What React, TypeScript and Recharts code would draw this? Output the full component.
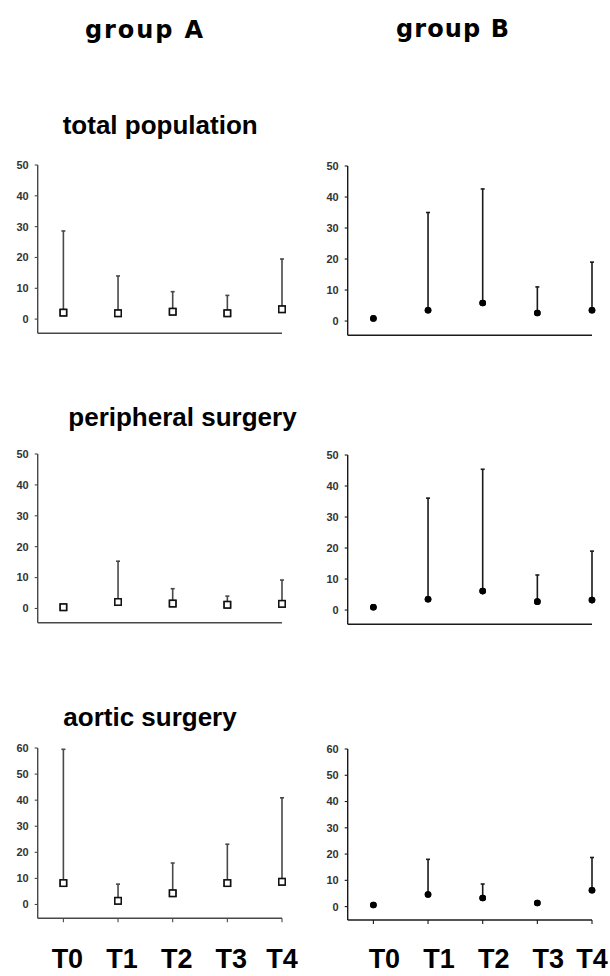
import React from 'react';
import { ScatterChart, Scatter, XAxis, YAxis, ErrorBar } from 'recharts';

const timepoints = ['T0', 'T1', 'T2', 'T3', 'T4'];
const xPositions = [0, 1, 2, 3, 4];
const ticks50 = [0, 10, 20, 30, 40, 50];
const ticks60 = [0, 10, 20, 30, 40, 50, 60];

const groupATotalMean = [2.1, 1.9, 2.4, 1.9, 3.2];
const groupATotalUpper = [28.6, 14, 8.9, 7.7, 19.5];
const groupBTotalMean = [0.8, 3.5, 5.8, 2.6, 3.5];
const groupBTotalUpper = [1.6, 35, 42.6, 11, 19];

const groupAPeriphMean = [0.4, 2.1, 1.6, 1.2, 1.5];
const groupAPeriphUpper = [0.4, 15.3, 6.4, 4.0, 9.2];
const groupBPeriphMean = [0.9, 3.5, 6.1, 2.7, 3.2];
const groupBPeriphUpper = [1.7, 36.1, 45.4, 11.3, 19];

const groupAAorticMean = [8.2, 1.4, 4.3, 8.2, 8.7];
const groupAAorticUpper = [59.5, 7.8, 15.9, 23.1, 40.9];
const groupBAorticMean = [0.6, 4.6, 3.3, 1.4, 6.2];
const groupBAorticUpper = [0.6, 18, 8.6, 1.4, 18.7];

function buildRows(mean: number[], upper: number[]) {
  return mean.map((m, i) => ({ x: xPositions[i], y: m, err: [0, Math.max(0, upper[i] - m)] }));
}

const COL_LEFT = [0, 310];
const AXIS_X = [37.7, 347.7];
const PLOT_RIGHT = [282, 592];
const FONT = '"Liberation Sans", Arial, sans-serif';

type PanelProps = {
  col: 0 | 1;
  plotTop: number;
  plotBottom: number;
  yMin: number;
  yMax: number;
  yTicks: number[];
  rows: { x: number; y: number; err: number[] }[];
  filled: boolean;
  labels?: boolean;
  stroke: string;
};

function Panel(p: PanelProps) {
  const left = COL_LEFT[p.col];
  const top = p.plotTop - 10;
  const yAxisWidth = AXIS_X[p.col] - left;
  const plotW = PLOT_RIGHT[p.col] - AXIS_X[p.col];
  const xAxisH = p.labels ? 976 - p.plotBottom : 10;
  const width = yAxisWidth + plotW + 18;
  const height = 10 + (p.plotBottom - p.plotTop) + xAxisH;
  const baseline = 968 - top;
  const shift = p.col === 0 ? 4 : 11;

  const renderLabel = (tp: any) => {
    const idx = xPositions.indexOf(tp.payload.value);
    const dx = idx < 4 ? shift : 0;
    return (
      <text
        x={tp.x + dx}
        y={baseline}
        textAnchor="middle"
        fontSize={27}
        fontWeight="bold"
        fontFamily={FONT}
        fill="#000"
      >
        {timepoints[idx]}
      </text>
    );
  };

  const shape = (sp: any) =>
    p.filled ? (
      <circle cx={sp.cx} cy={sp.cy} r={3.3} fill="#000" />
    ) : (
      <rect x={sp.cx - 3.2} y={sp.cy - 3.2} width={6.4} height={6.4} fill="#fff" stroke="#111" strokeWidth={1.5} />
    );

  return (
    <div style={{ position: 'absolute', left, top }}>
      <ScatterChart width={width} height={height} margin={{ top: 10, right: 18, left: 0, bottom: 0 }}>
        <XAxis
          type="number"
          dataKey="x"
          domain={[-0.47, 4]}
          ticks={xPositions}
          interval={0}
          height={xAxisH}
          tickSize={4}
          axisLine={{ stroke: p.stroke, strokeWidth: 1.4 }}
          tickLine={{ stroke: p.stroke, strokeWidth: 1.1 }}
          tick={p.labels ? renderLabel : false}
        />
        <YAxis
          type="number"
          dataKey="y"
          domain={[p.yMin, p.yMax]}
          ticks={p.yTicks}
          interval={0}
          width={yAxisWidth}
          tickSize={3}
          tickMargin={6}
          axisLine={{ stroke: p.stroke, strokeWidth: 1.4 }}
          tickLine={{ stroke: p.stroke, strokeWidth: 1.1 }}
          tick={{ fontSize: 11, fontWeight: 'bold', fill: '#333', fontFamily: FONT }}
        />
        <Scatter data={p.rows} shape={shape} isAnimationActive={false}>
          <ErrorBar dataKey="err" direction="y" width={2} stroke={p.stroke} strokeWidth={1.6} isAnimationActive={false} />
        </Scatter>
        <Scatter data={p.rows} shape={shape} isAnimationActive={false} />
      </ScatterChart>
    </div>
  );
}

export default function App() {
  const greyA = '#484848';
  const darkB = '#1a1a1a';
  return (
    <div style={{ position: 'absolute', left: 0, top: 0, width: 610, height: 976, background: '#fff' }}>
      <svg width={610} height={976} style={{ position: 'absolute', left: 0, top: 0 }}>
        <text x={85} y={37.7} fontSize={24} fontWeight="bold" fontFamily='"DejaVu Sans", sans-serif' textLength={118} lengthAdjust="spacing" fill="#000">
          group A
        </text>
        <text x={396} y={37.3} fontSize={24} fontWeight="bold" fontFamily='"DejaVu Sans", sans-serif' textLength={113} lengthAdjust="spacing" fill="#000">
          group B
        </text>
        <text x={62.7} y={134.3} fontSize={26} fontWeight="bold" fontFamily={FONT} fill="#000">
          total population
        </text>
        <text x={68.3} y={426} fontSize={26} fontWeight="bold" fontFamily={FONT} fill="#000">
          peripheral surgery
        </text>
        <text x={63.3} y={726} fontSize={26} fontWeight="bold" fontFamily={FONT} fill="#000">
          aortic surgery
        </text>
      </svg>
      <Panel col={0} plotTop={165} plotBottom={333.3} yMin={-4.6} yMax={50} yTicks={ticks50} rows={buildRows(groupATotalMean, groupATotalUpper)} filled={false} stroke={greyA} />
      <Panel col={1} plotTop={165.7} plotBottom={335} yMin={-4.6} yMax={50} yTicks={ticks50} rows={buildRows(groupBTotalMean, groupBTotalUpper)} filled stroke={darkB} />
      <Panel col={0} plotTop={454} plotBottom={622.7} yMin={-4.6} yMax={50} yTicks={ticks50} rows={buildRows(groupAPeriphMean, groupAPeriphUpper)} filled={false} stroke={greyA} />
      <Panel col={1} plotTop={455} plotBottom={624.3} yMin={-4.6} yMax={50} yTicks={ticks50} rows={buildRows(groupBPeriphMean, groupBPeriphUpper)} filled stroke={darkB} />
      <Panel col={0} plotTop={748} plotBottom={918.3} yMin={-5.3} yMax={60} yTicks={ticks60} rows={buildRows(groupAAorticMean, groupAAorticUpper)} filled={false} stroke={greyA} labels />
      <Panel col={1} plotTop={749} plotBottom={920} yMin={-5.1} yMax={60} yTicks={ticks60} rows={buildRows(groupBAorticMean, groupBAorticUpper)} filled stroke={darkB} labels />
    </div>
  );
}
